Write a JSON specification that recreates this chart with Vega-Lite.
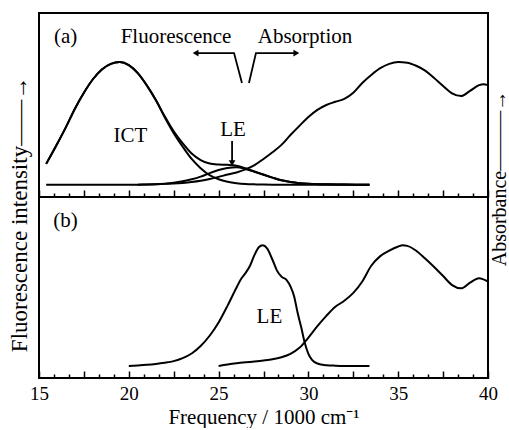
{
  "$schema": "https://vega.github.io/schema/vega-lite/v6.json",
  "background": "white",
  "padding": {"left": 6, "top": 12, "right": 0, "bottom": 0},
  "spacing": 0,
  "bounds": "flush",
  "config": {
    "view": {"stroke": "black", "strokeWidth": 2},
    "font": "Liberation Serif, Times New Roman, serif",
    "axis": {"labelFont": "Liberation Serif, Times New Roman, serif", "titleFont": "Liberation Serif, Times New Roman, serif", "labelColor": "black", "titleColor": "black"}
  },
  "datasets": {
    "fa": [
      {"s":"ICT","v":15.4,"y":0.17},{"s":"ICT","v":16,"y":0.33},{"s":"ICT","v":16.5,"y":0.47},{"s":"ICT","v":17,"y":0.62},{"s":"ICT","v":17.5,"y":0.75},{"s":"ICT","v":18,"y":0.86},{"s":"ICT","v":18.5,"y":0.94},{"s":"ICT","v":19,"y":0.985},{"s":"ICT","v":19.5,"y":1.0},{"s":"ICT","v":20,"y":0.975},{"s":"ICT","v":20.5,"y":0.91},{"s":"ICT","v":21,"y":0.81},{"s":"ICT","v":21.5,"y":0.69},{"s":"ICT","v":22,"y":0.55},{"s":"ICT","v":22.5,"y":0.42},{"s":"ICT","v":23,"y":0.31},{"s":"ICT","v":23.5,"y":0.21},{"s":"ICT","v":24,"y":0.135},{"s":"ICT","v":24.5,"y":0.078},{"s":"ICT","v":25,"y":0.045},{"s":"ICT","v":25.5,"y":0.025},{"s":"ICT","v":26,"y":0.013},{"s":"ICT","v":26.5,"y":0.006},{"s":"ICT","v":27,"y":0.003},{"s":"ICT","v":27.5,"y":0.001},{"s":"ICT","v":28,"y":0},{"s":"ICT","v":30,"y":0},{"s":"ICT","v":33.4,"y":0},
      {"s":"LE","v":15.4,"y":0},{"s":"LE","v":20.5,"y":0},{"s":"LE","v":21,"y":0.001},{"s":"LE","v":21.5,"y":0.003},{"s":"LE","v":22,"y":0.008},{"s":"LE","v":22.5,"y":0.016},{"s":"LE","v":23,"y":0.028},{"s":"LE","v":23.5,"y":0.044},{"s":"LE","v":24,"y":0.066},{"s":"LE","v":24.5,"y":0.095},{"s":"LE","v":25,"y":0.12},{"s":"LE","v":25.5,"y":0.137},{"s":"LE","v":26,"y":0.142},{"s":"LE","v":26.5,"y":0.128},{"s":"LE","v":27,"y":0.105},{"s":"LE","v":27.5,"y":0.082},{"s":"LE","v":28,"y":0.058},{"s":"LE","v":28.5,"y":0.036},{"s":"LE","v":29,"y":0.022},{"s":"LE","v":29.5,"y":0.013},{"s":"LE","v":30,"y":0.008},{"s":"LE","v":30.5,"y":0.005},{"s":"LE","v":31,"y":0.003},{"s":"LE","v":32,"y":0.001},{"s":"LE","v":33.4,"y":0},
      {"s":"total","v":15.4,"y":0.17},{"s":"total","v":16,"y":0.33},{"s":"total","v":16.5,"y":0.47},{"s":"total","v":17,"y":0.62},{"s":"total","v":17.5,"y":0.75},{"s":"total","v":18,"y":0.86},{"s":"total","v":18.5,"y":0.94},{"s":"total","v":19,"y":0.985},{"s":"total","v":19.5,"y":1.0},{"s":"total","v":20,"y":0.975},{"s":"total","v":20.5,"y":0.91},{"s":"total","v":21,"y":0.811},{"s":"total","v":21.5,"y":0.693},{"s":"total","v":22,"y":0.558},{"s":"total","v":22.5,"y":0.436},{"s":"total","v":23,"y":0.338},{"s":"total","v":23.5,"y":0.254},{"s":"total","v":24,"y":0.201},{"s":"total","v":24.5,"y":0.173},{"s":"total","v":25,"y":0.165},{"s":"total","v":25.5,"y":0.162},{"s":"total","v":26,"y":0.155},{"s":"total","v":26.5,"y":0.134},{"s":"total","v":27,"y":0.108},{"s":"total","v":27.5,"y":0.083},{"s":"total","v":28,"y":0.058},{"s":"total","v":28.5,"y":0.036},{"s":"total","v":29,"y":0.022},{"s":"total","v":29.5,"y":0.013},{"s":"total","v":30,"y":0.008},{"s":"total","v":30.5,"y":0.005},{"s":"total","v":31,"y":0.003},{"s":"total","v":32,"y":0.001},{"s":"total","v":33.4,"y":0}
    ],
    "aa": [
      {"v":20.5,"y":0},{"v":21,"y":0.002},{"v":21.5,"y":0.004},{"v":22,"y":0.007},{"v":22.5,"y":0.01},{"v":23,"y":0.015},{"v":23.5,"y":0.022},{"v":24,"y":0.032},{"v":24.5,"y":0.046},{"v":25,"y":0.064},{"v":25.5,"y":0.083},{"v":26,"y":0.1},{"v":26.5,"y":0.125},{"v":27,"y":0.16},{"v":27.5,"y":0.21},{"v":28,"y":0.265},{"v":28.5,"y":0.325},{"v":29,"y":0.405},{"v":29.5,"y":0.48},{"v":30,"y":0.552},{"v":30.5,"y":0.61},{"v":31,"y":0.65},{"v":31.5,"y":0.676},{"v":32,"y":0.7},{"v":32.5,"y":0.75},{"v":33,"y":0.83},{"v":33.5,"y":0.895},{"v":34,"y":0.95},{"v":34.5,"y":0.985},{"v":35,"y":1.0},{"v":35.5,"y":0.995},{"v":36,"y":0.97},{"v":36.5,"y":0.93},{"v":37,"y":0.87},{"v":37.5,"y":0.805},{"v":38,"y":0.745},{"v":38.5,"y":0.723},{"v":39,"y":0.765},{"v":39.5,"y":0.812},{"v":39.75,"y":0.82},{"v":40,"y":0.812}
    ],
    "ta": [
      {"t":"(a)","v":16.48,"y":1.155},{"t":"Fluorescence","v":22.63,"y":1.152},{"t":"Absorption","v":29.81,"y":1.152},{"t":"ICT","v":20.09,"y":0.35},{"t":"LE","v":25.8,"y":0.40}
    ],
    "la": [
      {"g":"L","o":1,"v":23.72,"y":1.073},{"g":"L","o":2,"v":25.86,"y":1.073},{"g":"L","o":3,"v":26.3,"y":0.829},
      {"g":"R","o":1,"v":26.69,"y":0.829},{"g":"R","o":2,"v":27.08,"y":1.073},{"g":"R","o":3,"v":29.33,"y":1.073},
      {"g":"A","o":1,"v":25.75,"y":0.356},{"g":"A","o":2,"v":25.75,"y":0.18}
    ],
    "pa": [
      {"d":"l","v":23.72,"y":1.073},{"d":"r","v":29.33,"y":1.073},{"d":"d","v":25.75,"y":0.176}
    ],
    "fb": [
      {"s":"LE","v":20,"y":0},{"s":"LE","v":20.5,"y":0.004},{"s":"LE","v":21,"y":0.009},{"s":"LE","v":21.5,"y":0.016},{"s":"LE","v":22,"y":0.026},{"s":"LE","v":22.5,"y":0.04},{"s":"LE","v":23,"y":0.065},{"s":"LE","v":23.5,"y":0.103},{"s":"LE","v":24,"y":0.165},{"s":"LE","v":24.5,"y":0.25},{"s":"LE","v":25,"y":0.36},{"s":"LE","v":25.5,"y":0.5},{"s":"LE","v":26,"y":0.65},{"s":"LE","v":26.25,"y":0.72},{"s":"LE","v":26.5,"y":0.77},{"s":"LE","v":26.75,"y":0.83},{"s":"LE","v":27,"y":0.92},{"s":"LE","v":27.25,"y":0.985},{"s":"LE","v":27.45,"y":1.0},{"s":"LE","v":27.7,"y":0.975},{"s":"LE","v":28,"y":0.88},{"s":"LE","v":28.25,"y":0.79},{"s":"LE","v":28.5,"y":0.74},{"s":"LE","v":28.8,"y":0.71},{"s":"LE","v":29,"y":0.66},{"s":"LE","v":29.2,"y":0.58},{"s":"LE","v":29.4,"y":0.44},{"s":"LE","v":29.6,"y":0.32},{"s":"LE","v":29.8,"y":0.19},{"s":"LE","v":30,"y":0.1},{"s":"LE","v":30.2,"y":0.05},{"s":"LE","v":30.5,"y":0.02},{"s":"LE","v":31,"y":0.006},{"s":"LE","v":31.5,"y":0.002},{"s":"LE","v":32,"y":0},{"s":"LE","v":33.4,"y":0},
      {"s":"abs","v":25,"y":0},{"s":"abs","v":25.5,"y":0.012},{"s":"abs","v":26,"y":0.022},{"s":"abs","v":26.5,"y":0.03},{"s":"abs","v":27,"y":0.037},{"s":"abs","v":27.5,"y":0.045},{"s":"abs","v":28,"y":0.055},{"s":"abs","v":28.5,"y":0.072},{"s":"abs","v":29,"y":0.1},{"s":"abs","v":29.5,"y":0.15},{"s":"abs","v":30,"y":0.235},{"s":"abs","v":30.5,"y":0.33},{"s":"abs","v":31,"y":0.415},{"s":"abs","v":31.5,"y":0.49},{"s":"abs","v":32,"y":0.54},{"s":"abs","v":32.5,"y":0.605},{"s":"abs","v":33,"y":0.7},{"s":"abs","v":33.5,"y":0.83},{"s":"abs","v":34,"y":0.91},{"s":"abs","v":34.5,"y":0.955},{"s":"abs","v":35,"y":0.99},{"s":"abs","v":35.25,"y":1.0},{"s":"abs","v":35.5,"y":0.995},{"s":"abs","v":36,"y":0.955},{"s":"abs","v":36.5,"y":0.89},{"s":"abs","v":37,"y":0.82},{"s":"abs","v":37.5,"y":0.745},{"s":"abs","v":38,"y":0.67},{"s":"abs","v":38.5,"y":0.643},{"s":"abs","v":39,"y":0.69},{"s":"abs","v":39.5,"y":0.726},{"s":"abs","v":40,"y":0.698}
    ],
    "tb": [
      {"t":"(b)","v":16.48,"y":1.149},{"t":"LE","v":27.83,"y":0.353}
    ]
  },
  "vconcat": [
    {
      "width": 449,
      "height": 184,
      "encoding": {
        "x": {
          "field": "v", "type": "quantitative",
          "scale": {"domain": [15, 40], "nice": false, "zero": false},
          "axis": {
            "values": [15,15.8333,16.6667,17.5,18.3333,19.1667,20,20.8333,21.6667,22.5,23.3333,24.1667,25,25.8333,26.6667,27.5,28.3333,29.1667,30,30.8333,31.6667,32.5,33.3333,34.1667,35,35.8333,36.6667,37.5,38.3333,39.1667,40],
            "tickSize": {"condition": {"test": "datum.value % 2.5 == 0", "value": -7}, "value": -4},
            "tickColor": "black", "tickWidth": 1.5,
            "domain": false, "grid": false, "labels": false, "title": null
          }
        }
      },
      "layer": [
        {
          "data": {"name": "fa"},
          "mark": {"type": "line", "stroke": "black", "strokeWidth": 2, "interpolate": "monotone"},
          "encoding": {
            "y": {
              "field": "y", "type": "quantitative",
              "scale": {"domain": [-0.1, 1.4], "nice": false, "zero": false},
              "axis": {"orient": "left", "domain": false, "ticks": false, "labels": false, "grid": false,
                "title": "Fluorescence intensity——→", "titleFontSize": 23, "titleFontWeight": "normal",
                "titleX": -20, "titleY": 201, "titleAngle": 270, "titleAlign": "center", "titleBaseline": "middle"}
            },
            "detail": {"field": "s"}
          }
        },
        {
          "data": {"name": "aa"},
          "mark": {"type": "line", "stroke": "black", "strokeWidth": 2, "interpolate": "monotone"},
          "encoding": {
            "y": {
              "field": "y", "type": "quantitative",
              "scale": {"domain": [-0.1, 1.4], "nice": false, "zero": false},
              "axis": {"orient": "right", "domain": false, "ticks": false, "labels": false, "grid": false,
                "title": "Absorbance———→", "titleFontSize": 20, "titleFontWeight": "normal",
                "titleX": 11, "titleY": 165, "titleAngle": 270, "titleAlign": "center", "titleBaseline": "middle"}
            }
          }
        },
        {
          "data": {"name": "ta"},
          "mark": {"type": "text", "font": "Liberation Serif, Times New Roman, serif", "fontSize": 21, "color": "black", "align": "center", "baseline": "alphabetic"},
          "encoding": {
            "y": {"field": "y", "type": "quantitative", "scale": {"domain": [-0.1, 1.4], "nice": false, "zero": false}, "axis": null},
            "text": {"field": "t"}
          }
        },
        {
          "data": {"name": "la"},
          "mark": {"type": "line", "stroke": "black", "strokeWidth": 1.8},
          "encoding": {
            "y": {"field": "y", "type": "quantitative", "scale": {"domain": [-0.1, 1.4], "nice": false, "zero": false}, "axis": null},
            "detail": {"field": "g"},
            "order": {"field": "o"}
          }
        },
        {
          "data": {"name": "pa"},
          "mark": {"type": "point", "filled": true, "color": "black", "opacity": 1, "size": 45, "strokeWidth": 0},
          "encoding": {
            "y": {"field": "y", "type": "quantitative", "scale": {"domain": [-0.1, 1.4], "nice": false, "zero": false}, "axis": null},
            "shape": {"field": "d", "type": "nominal", "scale": {"domain": ["l", "r", "d"], "range": ["triangle-left", "triangle-right", "triangle-down"]}, "legend": null}
          }
        }
      ],
      "resolve": {"scale": {"y": "independent"}}
    },
    {
      "width": 449,
      "height": 181,
      "encoding": {
        "x": {
          "field": "v", "type": "quantitative",
          "scale": {"domain": [15, 40], "nice": false, "zero": false},
          "axis": {
            "values": [15,15.8333,16.6667,17.5,18.3333,19.1667,20,20.8333,21.6667,22.5,23.3333,24.1667,25,25.8333,26.6667,27.5,28.3333,29.1667,30,30.8333,31.6667,32.5,33.3333,34.1667,35,35.8333,36.6667,37.5,38.3333,39.1667,40],
            "tickSize": {"condition": {"test": "datum.value % 2.5 == 0", "value": -7}, "value": -4},
            "tickColor": "black", "tickWidth": 1.5,
            "domain": false, "grid": false,
            "labelExpr": "datum.value % 5 == 0 ? datum.label : ''",
            "labelFontSize": 19, "labelPadding": 13, "labelOverlap": false, "labelFlush": false, "labelBound": false,
            "title": "Frequency / 1000 cm⁻¹", "titleFontSize": 21, "titleFontWeight": "normal", "titlePadding": 0
          }
        }
      },
      "layer": [
        {
          "data": {"name": "fb"},
          "mark": {"type": "line", "stroke": "black", "strokeWidth": 2, "interpolate": "monotone"},
          "encoding": {
            "y": {"field": "y", "type": "quantitative", "scale": {"domain": [-0.1, 1.4], "nice": false, "zero": false}, "axis": null},
            "detail": {"field": "s"}
          }
        },
        {
          "data": {"name": "tb"},
          "mark": {"type": "text", "font": "Liberation Serif, Times New Roman, serif", "fontSize": 21, "color": "black", "align": "center", "baseline": "alphabetic"},
          "encoding": {
            "y": {"field": "y", "type": "quantitative", "scale": {"domain": [-0.1, 1.4], "nice": false, "zero": false}, "axis": null},
            "text": {"field": "t"}
          }
        }
      ]
    }
  ]
}
